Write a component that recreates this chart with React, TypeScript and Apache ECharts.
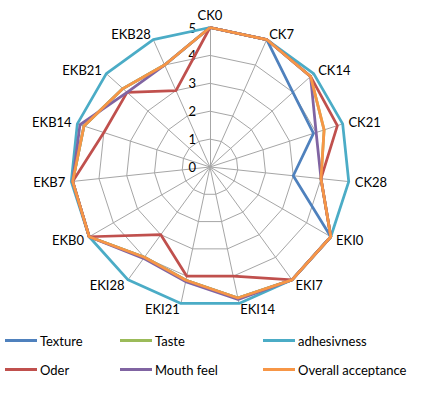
import React, { useEffect, useRef } from "react";
import * as echarts from "echarts";

const categories = ["CK0", "CK7", "CK14", "CK21", "CK28", "EKI0", "EKI7", "EKI14", "EKI21", "EKI28", "EKB0", "EKB7", "EKB14", "EKB21", "EKB28"];
const tickMax = 5;

const texture = [5, 5, 4.0, 3.9, 3.0, 5, 5, 4.8, 4.15, 4.0, 5, 4.95, 4.75, 4.2, 4.0];
const taste = [5, 5, 4.85, 4.3, 4.0, 5, 5, 4.8, 4.15, 4.0, 5, 4.95, 4.75, 4.2, 4.0];
const adhesivness = [5, 5, 5, 5, 5, 5, 5, 5, 5, 5, 5, 5, 5, 5, 5];
const oder = [5, 5, 4.85, 4.8, 4.0, 5, 5, 4.0, 4.0, 3.0, 5, 4.95, 4.0, 4.0, 3.0];
const mouthFeel = [5, 5, 4.85, 4.0, 4.0, 5, 5, 4.85, 4.2, 4.05, 5, 4.95, 4.9, 4.0, 4.0];
const overall = [5, 5, 4.85, 4.3, 4.0, 5, 5, 4.8, 4.15, 4.0, 5, 4.95, 4.75, 4.2, 4.0];

const seriesDefs = [
  { name: "Texture", values: texture, color: "#4F81BD" },
  { name: "Taste", values: taste, color: "#9BBB59" },
  { name: "adhesivness", values: adhesivness, color: "#4BACC6" },
  { name: "Oder", values: oder, color: "#C0504D" },
  { name: "Mouth feel", values: mouthFeel, color: "#8064A2" },
  { name: "Overall acceptance", values: overall, color: "#F79646" },
];

// ECharts places radar indicators counter-clockwise; reorder to get clockwise.
const order = [0, ...categories.map((_, i) => i).slice(1).reverse()];

const FONT = "Lato, 'Open Sans', sans-serif";

export default function App() {
  const ref = useRef<HTMLDivElement>(null);
  useEffect(() => {
    if (!ref.current) return;
    const chart = echarts.init(ref.current, null, { renderer: "svg" });
    const indicator = order.map((i, k) => {
      const ind: any = { name: categories[i], min: 0, max: tickMax };
      if (k === 0) {
        ind.axisLabel = { show: true, color: "#000", fontSize: 13, fontFamily: FONT, margin: 14 };
      }
      return ind;
    });
    const legendCols = [
      [seriesDefs[0], seriesDefs[3]],
      [seriesDefs[1], seriesDefs[4]],
      [seriesDefs[2], seriesDefs[5]],
    ];
    const legendLefts = [5, 120, 263];
    chart.setOption({
      animation: false,
      backgroundColor: "#fff",
      textStyle: { fontFamily: FONT },
      radar: {
        center: [210, 167],
        radius: 139.5,
        startAngle: 90,
        shape: "polygon",
        splitNumber: 5,
        indicator,
        axisName: { color: "#000", fontSize: 13, fontFamily: FONT },
        nameGap: 6,
        axisLine: { lineStyle: { color: "#A6A6A6", width: 1 } },
        splitLine: { lineStyle: { color: "#A6A6A6", width: 1 } },
        splitArea: { show: false },
        axisTick: { show: false },
        axisLabel: { show: false },
      },
      legend: legendCols.map((col, c) => ({
        orient: "vertical",
        left: legendLefts[c],
        top: 334,
        padding: 0,
        itemGap: 16,
        itemWidth: 32,
        itemHeight: 3,
        icon: "rect",
        textStyle: { color: "#000", fontSize: 13, fontFamily: FONT, padding: [0, 0, 0, -2] },
        data: col.map((s) => s.name),
      })),
      series: seriesDefs.map((s) => ({
        type: "radar",
        name: s.name,
        symbol: "none",
        lineStyle: { color: s.color, width: 2.75 },
        itemStyle: { color: s.color },
        data: [{ name: s.name, value: order.map((i) => s.values[i]) }],
      })),
    });
    return () => chart.dispose();
  }, []);
  return <div ref={ref} style={{ position: "fixed", left: 0, top: 0, width: 431, height: 399 }} />;
}
